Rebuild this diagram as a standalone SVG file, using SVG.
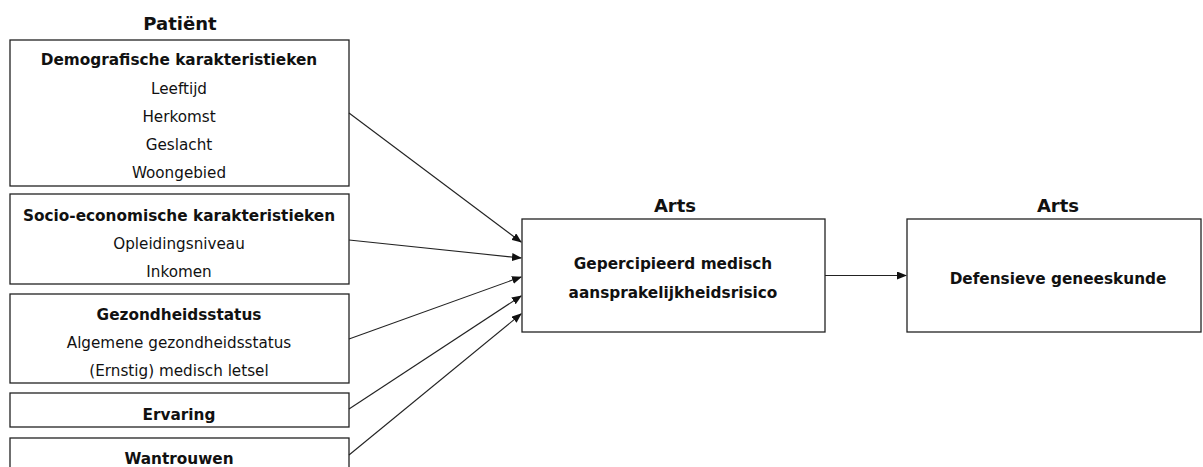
<svg xmlns="http://www.w3.org/2000/svg" width="1203" height="467" viewBox="0 0 1203 467">
<style>
.box{fill:#fff;stroke:#222;stroke-width:1.3}
text{font-family:"DejaVu Sans",Verdana,sans-serif;font-size:15.2px;fill:#111;text-anchor:middle}
.b{font-weight:bold;font-size:15.3px}
.h{font-weight:bold;font-size:18px}
.c{stroke:#222;stroke-width:1.1;fill:none;marker-end:url(#ah)}
</style>
<defs>
<marker id="ah" markerWidth="10" markerHeight="8" refX="9" refY="4" orient="auto" markerUnits="userSpaceOnUse">
<path d="M0,0 L10,4 L0,8 Z" fill="#111"/>
</marker>
</defs>
<text class="h" x="180" y="30">Patiënt</text>
<text class="h" x="675" y="212">Arts</text>
<text class="h" x="1058" y="212">Arts</text>
<g id="demo">
<rect class="box" x="10" y="40" width="339" height="146"/>
<text class="b" x="179" y="65">Demografische karakteristieken</text>
<text x="179" y="94">Leeftijd</text>
<text x="179" y="122">Herkomst</text>
<text x="179" y="150">Geslacht</text>
<text x="179" y="178">Woongebied</text>
</g>
<g id="socio">
<rect class="box" x="10" y="194" width="339" height="90"/>
<text class="b" x="179" y="221">Socio-economische karakteristieken</text>
<text x="179" y="249">Opleidingsniveau</text>
<text x="179" y="277">Inkomen</text>
</g>
<g id="gezond">
<rect class="box" x="10" y="294" width="339" height="89"/>
<text class="b" x="179" y="320">Gezondheidsstatus</text>
<text x="179" y="348">Algemene gezondheidsstatus</text>
<text x="179" y="376">(Ernstig) medisch letsel</text>
</g>
<g id="ervaring">
<rect class="box" x="10" y="393" width="339" height="34"/>
<text class="b" x="179" y="420">Ervaring</text>
</g>
<g id="wantrouwen">
<rect class="box" x="10" y="438" width="339" height="40"/>
<text class="b" x="179" y="464">Wantrouwen</text>
</g>
<g id="risico">
<rect class="box" x="522" y="219" width="303" height="113"/>
<text class="b" x="673" y="269">Gepercipieerd medisch</text>
<text class="b" x="673" y="298">aansprakelijkheidsrisico</text>
</g>
<g id="defensief">
<rect class="box" x="907" y="219" width="294" height="113"/>
<text class="b" x="1058" y="284">Defensieve geneeskunde</text>
</g>
<g id="connectors">
<line class="c" x1="349" y1="113" x2="521" y2="242"/>
<line class="c" x1="349" y1="240" x2="521" y2="258"/>
<line class="c" x1="349" y1="339" x2="521" y2="277"/>
<line class="c" x1="349" y1="409" x2="521" y2="296"/>
<line class="c" x1="349" y1="455" x2="521" y2="314"/>
<line class="c" x1="825" y1="275.5" x2="906" y2="275.5"/>
</g>
</svg>
